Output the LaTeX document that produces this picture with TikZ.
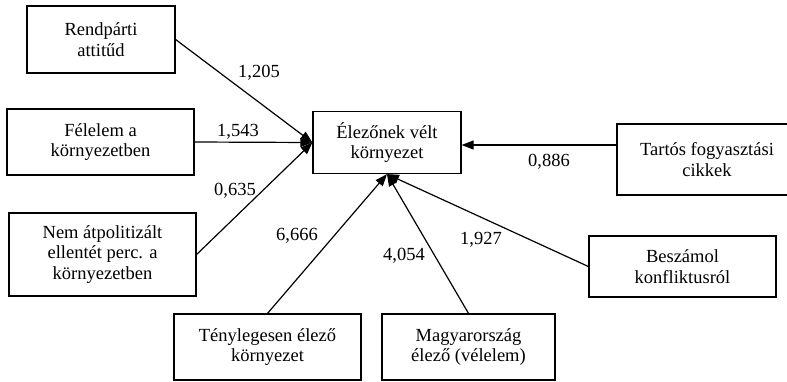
\documentclass[tikz,border=0pt]{standalone}
\usepackage{fontspec}
\setmainfont{Liberation Serif}
\usetikzlibrary{arrows.meta}
\begin{document}
\begin{tikzpicture}[x=1pt,y=-1pt,
  box/.style={draw,line width=1.2pt,inner sep=0pt,align=center,
    font=\fontsize{18.5}{20.5}\selectfont},
  arr/.style={line width=1.2pt,-{Triangle[length=12pt,width=9pt]}},
  lbl/.style={inner sep=0pt,font=\fontsize{18.5}{20.5}\selectfont}]
\useasboundingbox (0,0) rectangle (787,381);
\node[box,minimum width=148pt,minimum height=67pt] (rend) at (101,39.5) {Rendpárti\\attitűd};
\node[box,minimum width=187pt,minimum height=66pt] (fel) at (100.5,142) {Félelem a\\környezetben};
\node[box,minimum width=187pt,minimum height=83pt] (nem) at (102.5,254.5) {Nem átpolitizált\\ellentét perc. a\\környezetben};
\node[box,minimum width=148pt,minimum height=62pt] (elez) at (387,142.5) {Élezőnek vélt\\környezet};
\node[box,minimum width=180pt,minimum height=71pt] (tartos) at (707,159.5) {Tartós fogyasztási\\cikkek};
\node[box,minimum width=187pt,minimum height=61pt] (besz) at (682.5,266.5) {Beszámol\\konfliktusról};
\node[box,minimum width=187pt,minimum height=66pt] (teny) at (267.5,347) {Ténylegesen élező\\környezet};
\node[box,minimum width=173pt,minimum height=66pt] (magy) at (468.5,347) {Magyarország\\élező (vélelem)};
\coordinate (tin) at ([yshift=-2.5pt]elez.east);
\draw[arr] (rend.east) -- (elez.west);
\draw[arr] (fel.east) -- (elez.west);
\draw[arr] (nem.east) -- (elez.west);
\draw[arr] (tartos.west |- tin) -- (tin);
\draw[arr] (teny.north) -- (elez.south);
\draw[arr] (magy.north) -- (elez.south);
\draw[arr] (besz.west) -- (elez.south);
\node[lbl] (l1) at (259,73) {1,205};
\node[lbl] (l2) at (238,132) {1,543};
\node[lbl] (l3) at (235,191) {0,635};
\node[lbl] (l4) at (297,236) {6,666};
\node[lbl] (l5) at (404,256) {4,054};
\node[lbl] (l6) at (481,240) {1,927};
\node[lbl] (l7) at (549,162) {0,886};
\end{tikzpicture}
\end{document}
